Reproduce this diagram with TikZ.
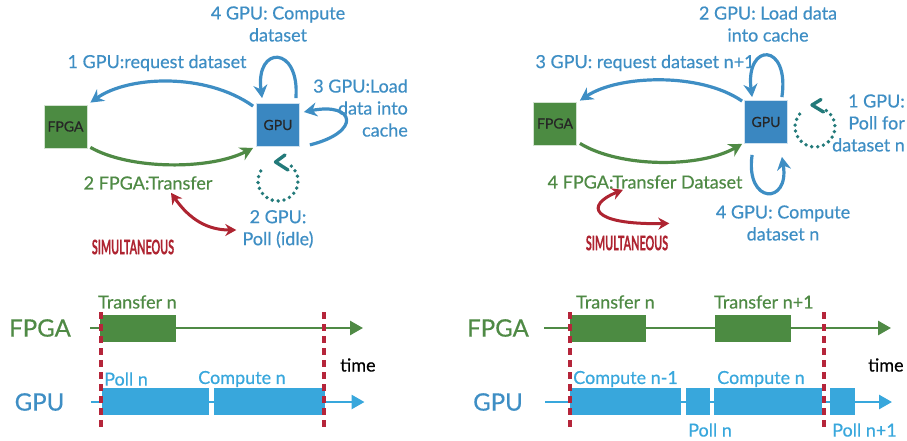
\documentclass[tikz,border=0pt]{standalone}
\usepackage{fontspec}
\setmainfont{Lato}[FakeBold=0.5]
\usetikzlibrary{arrows.meta,calc}
\definecolor{btext}{HTML}{3E8EC4}
\definecolor{bbox}{HTML}{3A87C1}
\definecolor{gbox}{HTML}{4C8B42}
\definecolor{gtext}{HTML}{4F8A45}
\definecolor{tblue}{HTML}{38A7DC}
\definecolor{pollteal}{HTML}{237A7A}
\definecolor{sred}{HTML}{AE2431}
\definecolor{dashred}{HTML}{B5253A}
\tikzset{
  fpgabox/.style={fill=gbox, draw=white!75!gbox, line width=0.8pt, minimum size=43pt, inner sep=0pt, font=\fontsize{14}{16}\selectfont, text=black!85},
  gpubox/.style={fill=bbox, draw=white!75!bbox, line width=0.8pt, minimum size=43pt, inner sep=0pt, font=\fontsize{14}{16}\selectfont, text=black!85},
  bluearr/.style={draw=btext, line width=3.2pt, -{Stealth[length=13pt,width=14pt]}},
  greenarr/.style={draw=gtext, line width=3.2pt, -{Stealth[length=13pt,width=14pt]}},
  redarr/.style={draw=sred, line width=3pt, {Stealth[length=11pt,width=12pt]}-{Stealth[length=11pt,width=12pt]}},
  polldots/.style={draw=pollteal, line width=3.8pt, line cap=round, dash pattern=on 0pt off 6pt},
  pollhead/.style={draw=pollteal, line width=3.4pt, line cap=round, line join=round},
  blbl/.style={text=btext, font=\fontsize{18}{22}\selectfont, align=center, inner sep=0pt},
  glbl/.style={text=gtext, font=\fontsize{18}{22}\selectfont, align=center, inner sep=0pt},
  simul/.style={text=sred, font=\fontsize{20}{22}\selectfont\bfseries, inner sep=0pt},
  rowlbl/.style={font=\fontsize{24}{26}\selectfont, inner sep=0pt},
  tlbl/.style={font=\fontsize{18}{20}\selectfont, inner sep=0pt},
  gline/.style={draw=gtext, line width=2.7pt, -{Triangle[length=13pt,width=14pt]}},
  bline/.style={draw=tblue, line width=2.7pt, -{Triangle[length=13pt,width=14pt]}},
  redline/.style={draw=dashred, line width=3.2pt, dash pattern=on 7pt off 5pt},
}
\begin{document}
\begin{tikzpicture}[x=1pt,y=-1pt]
\useasboundingbox (0,0) rectangle (907,441);

% ---------- left panel ----------
\node[fpgabox] (f1) at (65.5,126.5) {FPGA};
\node[gpubox] (g1) at (278,125) {GPU};

\node[blbl] (l4c) at (278,24) {4 GPU: Compute\\dataset};
\node[blbl] (l1r) at (157,63) {1 GPU:request dataset};
\node[blbl, align=right, anchor=east] (l3l) at (408,108) {3 GPU:Load\\data into\\cache};
\node[glbl] (l2t) at (148,183) {2 FPGA:Transfer};
\node[blbl] (l2p) at (278,229) {2 GPU:\\Poll (idle)};
\node[simul] (s1) at (133,247) {\scalebox{0.54}[1]{SIMULTANEOUS}};

\draw[bluearr] ($(g1.north west)+(-3,3)$) .. controls (205,72) and (128,76) .. ($(f1.north east)+(3,-2)$);
\draw[greenarr] ($(f1.south east)+(3,-1)$) .. controls (130,170) and (210,170) .. ($(g1.south west)+(-3,1)$);
\draw[bluearr] ($(g1.north east)+(-4,-5)$) .. controls (300,45) and (255,45) .. ($(g1.north west)+(6,-5)$);
\draw[bluearr] ($(g1.south east)+(10,-2)$) .. controls (362,132) and (355,102) .. ($(g1.east)+(4,-13)$);
\coordinate (c1) at (278,181);
\draw[polldots] (c1) ++(150:20pt) arc[start angle=150, end angle=420, radius=20pt];
\draw[pollhead] (285,155) -- (275.5,162) -- (288,170);
\draw[redarr] ($(l2t.south)+(23,3)$) .. controls (190,220) and (208,230) .. ($(l2p.west)+(-6,1)$);

% ---------- right panel ----------
\node[fpgabox] (f2) at (555,123.5) {FPGA};
\node[gpubox] (g2) at (766,122) {GPU};

\node[blbl] (r2l) at (768,24) {2 GPU: Load data\\into cache};
\node[blbl] (r3r) at (645,63) {3 GPU: request dataset n+1};
\node[blbl, align=right, anchor=east] (r1p) at (905,123) {1 GPU:\\Poll for\\dataset n};
\node[blbl] (r4c) at (783,223) {4 GPU: Compute\\dataset n};
\node[glbl] (r4t) at (645,182) {4 FPGA:Transfer Dataset};
\node[simul] (s2) at (627,243) {\scalebox{0.54}[1]{SIMULTANEOUS}};

\draw[bluearr] ($(g2.north west)+(-2,1)$) .. controls (700,72) and (618,75) .. ($(f2.north east)+(3,-1)$);
\draw[greenarr] ($(f2.south east)+(3,-2)$) .. controls (620,168) and (700,168) .. ($(g2.south west)+(-2,0)$);
\draw[bluearr] ($(g2.north east)+(-6,-3)$) .. controls (790,42) and (745,42) .. ($(g2.north west)+(8,-3)$);
\draw[bluearr] ($(g2.south west)+(8,11)$) .. controls (745,205) and (790,205) .. ($(g2.south east)+(-6,13)$);
\coordinate (c2) at (815,127);
\draw[polldots] (c2) ++(140:20pt) arc[start angle=140, end angle=420, radius=20pt];
\draw[pollhead] (821,99.5) -- (812,105) -- (823.5,112);
\draw[redarr] ($(r4t.south)+(-22,1)$) .. controls (585,205) and (590,225) .. ($(s2.north east)+(1,-12)$);

% ---------- left timeline ----------
\node[rowlbl, text=gtext] (tf1) at (40,328) {FPGA};
\node[rowlbl, text=btext] (tg1) at (39.5,402) {GPU};
\draw[gline] ($(tf1.east)+(19,0)$) -- ++(273,0);
\draw[bline] ($(tg1.east)+(27,0)$) -- ++(273,0);
\fill[gbox] (100,315) rectangle (176,342);
\fill[tblue] (102,388) rectangle (209,415);
\fill[tblue] (214,388) rectangle (325,415);
\node[tlbl, text=gtext, anchor=west] at (98,302) {Transfer n};
\node[tlbl, text=tblue, anchor=west] at (104,379) {Poll n};
\node[tlbl, text=tblue, anchor=west] at (198,379) {Compute n};
\node[tlbl, text=black, anchor=west] at (340,365) {time};
\draw[redline] (101,312) -- (101,428);
\draw[redline] (324,312) -- (324,428);

% ---------- right timeline ----------
\node[rowlbl, text=gtext] (tf2) at (498,328) {FPGA};
\node[rowlbl, text=btext] (tg2) at (498,402) {GPU};
\draw[gline] ($(tf2.east)+(15,0)$) -- ++(347,0);
\draw[bline] ($(tg2.east)+(22,0)$) -- ++(347,0);
\fill[gbox] (570,315) rectangle (646,342);
\fill[gbox] (715,315) rectangle (791,342);
\fill[tblue] (570,388) rectangle (681,415);
\fill[tblue] (686,388) rectangle (710,415);
\fill[tblue] (714,388) rectangle (822,415);
\fill[tblue] (830,388) rectangle (855,415);
\node[tlbl, text=gtext, anchor=west] at (576,302) {Transfer n};
\node[tlbl, text=gtext, anchor=west] at (714,302) {Transfer n+1};
\node[tlbl, text=tblue, anchor=west] at (573,379) {Compute n-1};
\node[tlbl, text=tblue, anchor=west] at (717,379) {Compute n};
\node[tlbl, text=tblue, anchor=west] at (688,430) {Poll n};
\node[tlbl, text=tblue, anchor=west] at (832,430) {Poll n+1};
\node[tlbl, text=black, anchor=west] at (868,365) {time};
\draw[redline] (570,312) -- (570,428);
\draw[redline] (824,312) -- (824,428);
\end{tikzpicture}
\end{document}
